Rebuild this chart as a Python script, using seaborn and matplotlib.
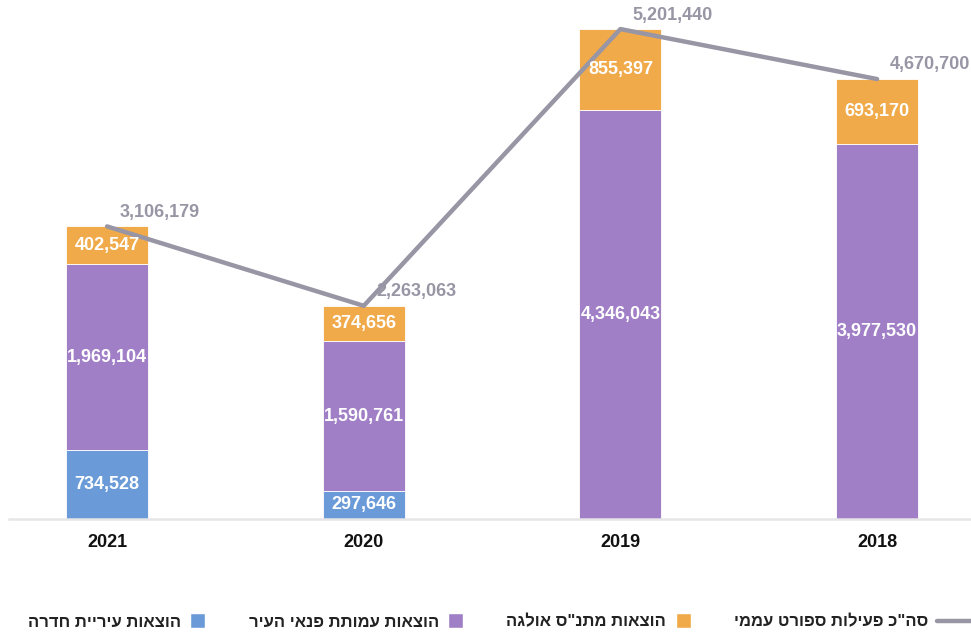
import numpy as np
import pandas as pd
import seaborn as sns
import matplotlib
matplotlib.use("Agg")
import matplotlib.pyplot as plt
from matplotlib.patches import Patch, Rectangle
from matplotlib.lines import Line2D
from matplotlib.legend_handler import HandlerPatch

years = ["2021", "2020", "2019", "2018"]
city = [734528, 297646, 0, 0]
olga_assoc = [1969104, 1590761, 4346043, 3977530]
matnas = [402547, 374656, 855397, 693170]
totals = [3106179, 2263063, 5201440, 4670700]

series_names = [
    "הוצאות עיריית חדרה",
    "הוצאות עמותת פנאי העיר",
    "הוצאות מתנ\"ס אולגה",
]
line_name = "סה\"כ פעילות ספורט עממי"

c_blue = "#6A9BD8"
c_purple = "#A07FC6"
c_orange = "#F0AA4A"
c_line = "#9896A5"


def rtl(s):
    return s[::-1]


sns.set_theme(style="white")
FAMILIES = ["Liberation Sans Narrow", "Liberation Sans", "DejaVu Sans"]
plt.rcParams["font.family"] = FAMILIES
FONT = dict(family=FAMILIES, fontweight="bold")

fig = plt.figure(figsize=(9.71, 6.36), dpi=100)
ax = fig.add_axes([0.0093, 0.184, 0.9907, 0.816])

df = pd.DataFrame({"year": years, "city": city, "olga": olga_assoc, "matnas": matnas})
pos = np.arange(len(years))

bottom = np.zeros(len(years))
for col, color in [("city", c_blue), ("olga", c_purple), ("matnas", c_orange)]:
    vals = df[col].to_numpy(dtype=float)
    sns.barplot(data=df, x="year", y=col, order=years, color=color, width=0.32,
                bottom=bottom, saturation=1, edgecolor="white", linewidth=0.6, ax=ax)
    for i, v in enumerate(vals):
        if v > 0:
            ax.text(pos[i], bottom[i] + v / 2, f"{int(v):,}", ha="center", va="center",
                    color="white", fontsize=13, **FONT)
    bottom = bottom + vals

sns.lineplot(x=pos, y=totals, color=c_line, linewidth=3.2, ax=ax, solid_capstyle="round")
for i, t in enumerate(totals):
    ax.annotate(f"{t:,}", (pos[i], t), xytext=(9, 4), textcoords="offset points",
                ha="left", va="bottom", color=c_line, fontsize=13, **FONT)

ax.set_xlim(-0.382, 3.366)
ax.set_ylim(0, 5.51e6)
ax.set_yticks([])
ax.set_xlabel("")
ax.set_ylabel("")
for s in ["top", "right", "left"]:
    ax.spines[s].set_visible(False)
ax.spines["bottom"].set_color("#E6E6E6")
ax.spines["bottom"].set_linewidth(1.8)
ax.tick_params(axis="x", length=0, pad=11)
for lbl in ax.get_xticklabels():
    lbl.set_fontsize(13)
    lbl.set_family(FAMILIES)
    lbl.set_fontweight("bold")
    lbl.set_color("#111111")


def square_patch(legend, orig_handle, xdescent, ydescent, width, height, fontsize):
    side = 0.9 * fontsize
    return Rectangle((-xdescent, -ydescent + (height - side) / 2), side, side)


handles = [
    Patch(facecolor=c_blue, label=rtl(series_names[0])),
    Patch(facecolor=c_purple, label=rtl(series_names[1])),
    Patch(facecolor=c_orange, label=rtl(series_names[2])),
    Line2D([0], [0], color=c_line, linewidth=3.2, label=rtl(line_name)),
]
leg = fig.legend(handles=handles, loc="center", bbox_to_anchor=(0.516, 0.022), ncol=4,
                 frameon=False, markerfirst=False, columnspacing=1.3, handlelength=2.2,
                 handleheight=0.8, handletextpad=0.55,
                 handler_map={Patch: HandlerPatch(patch_func=square_patch)},
                 prop=dict(family=FAMILIES, weight="bold", size=12))
for t in leg.get_texts():
    t.set_color("#222222")

fig.savefig("out.png", dpi=100)
